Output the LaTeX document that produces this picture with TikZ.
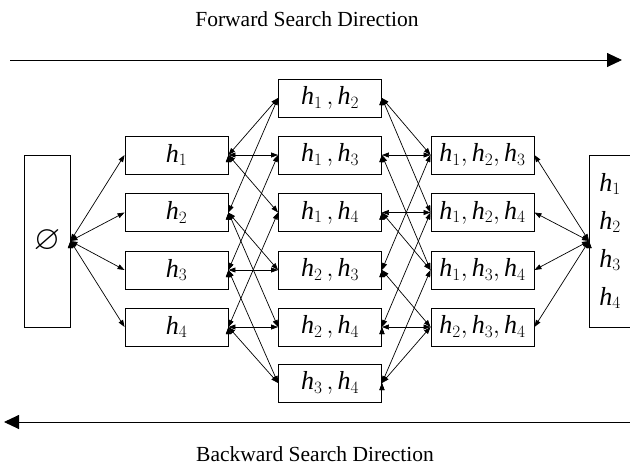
\documentclass[tikz,border=0pt]{standalone}
\usepackage{amssymb}
\usepackage{fontspec}
\setmainfont{Liberation Serif}
\usetikzlibrary{arrows.meta}

\newcommand{\hv}[1]{\textit{h}_{#1}}

\tikzset{
  setbox/.style={draw,line width=0.9pt,minimum width=103pt,minimum height=38pt,inner sep=0pt,font=\fontsize{26}{30}\selectfont},
  link/.style={line width=0.7pt,{Triangle[length=7pt,width=5pt]}-{Triangle[length=7pt,width=5pt]}},
  searcharrow/.style={line width=0.9pt,-{Triangle[length=15pt,width=14pt]}},
  caption/.style={anchor=base,font=\fontsize{21.5}{26}\selectfont}
}

\begin{document}
\begin{tikzpicture}[x=1pt,y=-1pt]
	\path[use as bounding box,clip] (0,0) rectangle (630,469);
	
	%search directions
	\node[caption] (fwd) at (307,26.7) {Forward Search Direction};
	\coordinate (fwdA) at (10,60);
	\coordinate (fwdB) at (622,60);
	\draw[searcharrow] (fwdA) -- (fwdB); %forward
	\node[caption] (bwd) at (315,461.7) {Backward Search Direction};
	\coordinate (bwdA) at (630,422);
	\coordinate (bwdB) at (4,422);
	\draw[searcharrow] (bwdA) -- (bwdB); %backward
	
	%empty set and full set
	\node[draw,line width=0.9pt,minimum width=46pt,minimum height=172pt,inner sep=0pt,
	  font=\fontsize{34}{36}\selectfont] (empty) at (47,241) {$\varnothing$};
	\node[draw,line width=0.9pt,anchor=west,minimum height=172pt,inner xsep=10pt,text width=60pt,
	  align=left,font=\fontsize{26}{38}\selectfont] (all) at (589,241) {$\hv1$\\$\hv2$\\$\hv3$\\$\hv4$};
	
	%one feature
	\node[setbox] (h1) at (176.5,155) {$\hv1$};
	\node[setbox] (h2) at (176.5,212.5) {$\hv2$};
	\node[setbox] (h3) at (176.5,270) {$\hv3$};
	\node[setbox] (h4) at (176.5,327) {$\hv4$};
	
	%two features
	\node[setbox] (h12) at (330,98) {$\hv1\,,\hv2$};
	\node[setbox] (h13) at (330,155) {$\hv1\,,\hv3$};
	\node[setbox] (h14) at (330,212.5) {$\hv1\,,\hv4$};
	\node[setbox] (h23) at (330,270) {$\hv2\,,\hv3$};
	\node[setbox] (h24) at (330,327) {$\hv2\,,\hv4$};
	\node[setbox] (h34) at (330,383) {$\hv3\,,\hv4$};
	
	%three features
	\node[setbox] (h123) at (482.5,155) {$\hv1,\hv2,\hv3$};
	\node[setbox] (h124) at (482.5,212.5) {$\hv1,\hv2,\hv4$};
	\node[setbox] (h134) at (482.5,270) {$\hv1,\hv3,\hv4$};
	\node[setbox] (h234) at (482.5,327) {$\hv2,\hv3,\hv4$};
	
	%links
	\draw[link] (empty.east) edge (h1.west) edge (h2.west) edge (h3.west) edge (h4.west);
	\draw[link] (h1.east) edge (h12.west) edge (h13.west) edge (h14.west);
	\draw[link] (h2.east) edge (h12.west) edge (h23.west) edge (h24.west);
	\draw[link] (h3.east) edge (h13.west) edge (h23.west) edge (h34.west);
	\draw[link] (h4.east) edge (h14.west) edge (h24.west) edge (h34.west);
	\draw[link] (h12.east) edge (h123.west) edge (h124.west);
	\draw[link] (h13.east) edge (h123.west) edge (h134.west);
	\draw[link] (h14.east) edge (h124.west) edge (h134.west);
	\draw[link] (h23.east) edge (h123.west) edge (h234.west);
	\draw[link] (h24.east) edge (h124.west) edge (h234.west);
	\draw[link] (h34.east) edge (h134.west) edge (h234.west);
	\draw[link] (all.west) edge (h123.east) edge (h124.east) edge (h134.east) edge (h234.east);
	
\end{tikzpicture}
\end{document}
